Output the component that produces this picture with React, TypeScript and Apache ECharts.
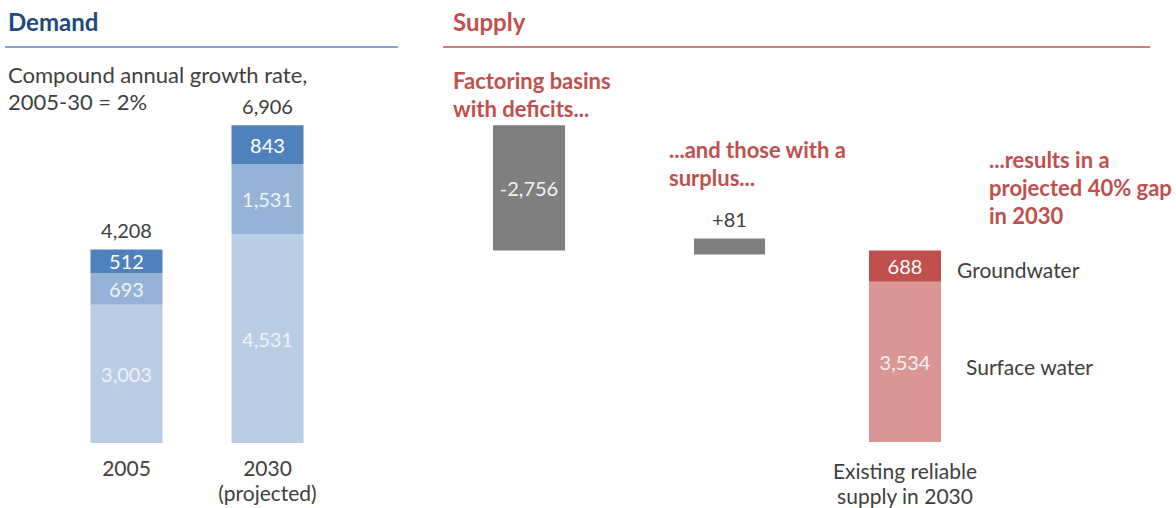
import React, { useEffect, useRef } from 'react';
import * as echarts from 'echarts';

// ---- Demand data ----
const demandCategories = ['2005', '2030\n(projected)'];
const demandBase = [3003, 4531];
const demandMid = [693, 1531];
const demandTop = [512, 843];
const demandTotals = [4208, 6906];

// ---- Supply data ----
const supplyCategories = ['', '', 'Existing reliable\nsupply in 2030'];
const deficitValue = 2756;
const surplusValue = 81;
const surfaceWater = 3534;
const groundwater = 688;

const FONT = 'Lato, "Noto Sans", sans-serif';
const TEXT = '#404040';
const RED = '#C0504D';
const NAVY = '#1F497D';

const fmt = (v: number) => v.toLocaleString('en-US');

export default function App() {
  const ref = useRef<HTMLDivElement>(null);
  useEffect(() => {
    if (!ref.current) return;
    const chart = echarts.init(ref.current, null, { renderer: 'svg' });
    const supplyTotal = surfaceWater + groundwater;
    const inside = (color: string, f: (p: any) => string) => ({
      show: true,
      position: 'inside',
      color,
      fontFamily: FONT,
      fontSize: 20,
      formatter: f,
    });
    const hiddenX = (gridIndex: number, data: string[]) => ({
      type: 'category', gridIndex, data,
      axisLine: { show: false }, axisTick: { show: false },
      axisLabel: { color: TEXT, fontFamily: FONT, fontSize: 21, lineHeight: 25, margin: 16, interval: 0 },
    });
    const option: any = {
      animation: false,
      grid: [
        { left: 56, width: 282, top: 75, bottom: 65 },
        { left: 435, width: 564, top: 79, bottom: 65 },
        { left: 694, width: 71, top: 79, bottom: 65 },
      ],
      xAxis: [
        {
          type: 'category', gridIndex: 0, data: demandCategories,
          axisLine: { show: false }, axisTick: { show: false },
          axisLabel: { color: TEXT, fontFamily: FONT, fontSize: 21, lineHeight: 25, margin: 12 },
        },
        hiddenX(1, supplyCategories),
        hiddenX(2, ['']),
      ],
      yAxis: [
        { type: 'value', gridIndex: 0, min: 0, max: 8000, show: false, splitLine: { show: false } },
        { type: 'value', gridIndex: 1, min: 0, max: 8000, show: false, splitLine: { show: false } },
        { type: 'value', gridIndex: 2, min: 0, max: 8000, show: false, splitLine: { show: false } },
      ],
      series: [
        {
          type: 'bar', xAxisIndex: 0, yAxisIndex: 0, stack: 'd', barWidth: 72, barGap: '-100%', silent: true,
          data: demandBase, itemStyle: { color: '#B9CDE5' },
          label: inside('#F2F2F2', (p) => fmt(p.value)),
        },
        {
          type: 'bar', xAxisIndex: 0, yAxisIndex: 0, stack: 'd', barWidth: 72, barGap: '-100%', silent: true,
          data: demandMid, itemStyle: { color: '#95B3D7' },
          label: inside('#F2F2F2', (p) => fmt(p.value)),
        },
        {
          type: 'bar', xAxisIndex: 0, yAxisIndex: 0, stack: 'd', barWidth: 72, barGap: '-100%', silent: true,
          data: demandTop, itemStyle: { color: '#4F81BD' },
          label: inside('#FFFFFF', (p) => fmt(p.value)),
        },
        {
          type: 'bar', xAxisIndex: 0, yAxisIndex: 0, barWidth: 72, barGap: '-100%', silent: true, z: 0,
          data: demandTotals, itemStyle: { color: 'rgba(0,0,0,0)' },
          label: {
            show: true, position: 'top', distance: 9, color: TEXT, fontFamily: FONT, fontSize: 20,
            formatter: (p: any) => fmt(p.value),
          },
        },
        // Supply waterfall: deficit bar and existing supply
        {
          type: 'bar', xAxisIndex: 1, yAxisIndex: 1, stack: 's', barWidth: 72, silent: true,
          data: [supplyTotal, '-', 0], itemStyle: { color: 'rgba(0,0,0,0)' },
        },
        {
          type: 'bar', xAxisIndex: 1, yAxisIndex: 1, stack: 's', barWidth: 72, silent: true,
          data: [deficitValue, '-', '-'], itemStyle: { color: '#7F7F7F' },
          label: inside('#F2F2F2', (p) => '-' + fmt(p.value)),
        },
        {
          type: 'bar', xAxisIndex: 1, yAxisIndex: 1, stack: 's', barWidth: 72, silent: true,
          data: ['-', '-', surfaceWater], itemStyle: { color: '#D99694' },
          label: inside('#F2F2F2', (p) => fmt(p.value)),
        },
        {
          type: 'bar', xAxisIndex: 1, yAxisIndex: 1, stack: 's', barWidth: 72, silent: true,
          data: ['-', '-', groundwater], itemStyle: { color: RED },
          label: inside('#FFFFFF', (p) => fmt(p.value)),
        },
        // Surplus bar
        {
          type: 'bar', xAxisIndex: 2, yAxisIndex: 2, stack: 'p', barWidth: 71, silent: true,
          data: [supplyTotal - surplusValue], itemStyle: { color: 'rgba(0,0,0,0)' },
        },
        {
          type: 'bar', xAxisIndex: 2, yAxisIndex: 2, stack: 'p', barWidth: 71, silent: true, barMinHeight: 16,
          data: [surplusValue], itemStyle: { color: '#7F7F7F' },
          label: {
            show: true, position: 'top', distance: 10, color: TEXT, fontFamily: FONT, fontSize: 20,
            formatter: (p: any) => '+' + fmt(p.value),
          },
        },
      ],
      graphic: [
        { type: 'text', left: 8, top: 9, style: { text: 'Demand', fill: NAVY, font: `bold 24px ${FONT}` } },
        { type: 'line', shape: { x1: 5, y1: 47, x2: 398, y2: 47 }, style: { stroke: '#5B87C5', lineWidth: 1.5 } },
        { type: 'text', left: 453, top: 9, style: { text: 'Supply', fill: RED, font: `bold 24px ${FONT}` } },
        { type: 'line', shape: { x1: 443, y1: 47, x2: 1150, y2: 47 }, style: { stroke: RED, lineWidth: 1.5 } },
        {
          type: 'text', left: 8, top: 61,
          style: { text: 'Compound annual growth rate,\n2005-30 = 2%', fill: TEXT, font: `22px ${FONT}`, lineHeight: 27 },
        },
        {
          type: 'text', left: 453, top: 66,
          style: { text: 'Factoring basins\nwith deficits...', fill: RED, font: `bold 22px ${FONT}`, lineHeight: 28 },
        },
        {
          type: 'text', left: 669, top: 135,
          style: { text: '...and those with a\nsurplus...', fill: RED, font: `bold 22px ${FONT}`, lineHeight: 28 },
        },
        {
          type: 'text', left: 989, top: 145,
          style: { text: '...results in a\nprojected 40% gap\nin 2030', fill: RED, font: `bold 22px ${FONT}`, lineHeight: 28 },
        },
        { type: 'text', left: 957, top: 259, style: { text: 'Groundwater', fill: TEXT, font: `21px ${FONT}` } },
        { type: 'text', left: 966, top: 356, style: { text: 'Surface water', fill: TEXT, font: `21px ${FONT}` } },
      ],
    };
    chart.setOption(option);
    return () => chart.dispose();
  }, []);
  return (
    <div
      ref={ref}
      style={{ position: 'fixed', left: 0, top: 0, width: 1176, height: 508, background: '#fff' }}
    />
  );
}
